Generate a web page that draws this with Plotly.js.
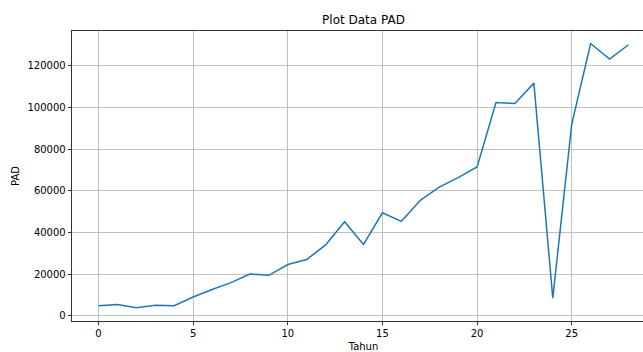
<!DOCTYPE html>
<html>
<head>
<meta charset="utf-8">
<script src="https://cdn.plot.ly/plotly-3.0.1.min.js"></script>
<style>
html,body{margin:0;padding:0;overflow:hidden;background:#fff;width:643px;height:352px;}
#chart{width:660px;height:352px;}
</style>
</head>
<body>
<div id="chart"></div>
<script>
const tahun = [0,1,2,3,4,5,6,7,8,9,10,11,12,13,14,15,16,17,18,19,20,21,22,23,24,25,26,27,28];
const pad = [4800,5400,3900,5100,4800,9000,12600,15900,20000,19400,24600,27000,34000,45100,34200,49400,45300,55400,61700,66300,71400,102300,101800,111600,8500,91800,130600,123100,130000];
const xTicks = [0,5,10,15,20,25];
const yTicks = [0,20000,40000,60000,80000,100000,120000];
const titleText = "Plot Data PAD";
const xLabel = "Tahun";
const yLabel = "PAD";

const font = "DejaVu Sans, sans-serif";
const axisCommon = {
  showline: true, mirror: true, linecolor: "#000", linewidth: 0.8,
  ticks: "outside", ticklen: 3.5, tickwidth: 0.8, tickcolor: "#000",
  showgrid: true, gridcolor: "#b0b0b0", gridwidth: 0.8,
  zeroline: false, tickfont: {family: font, size: 10, color: "#000"}
};
Plotly.newPlot("chart", [{
  x: tahun, y: pad, type: "scatter", mode: "lines",
  line: {color: "#1f77b4", width: 1.5}
}], {
  width: 660, height: 352,
  margin: {l: 72, r: 5, t: 31, b: 31},
  paper_bgcolor: "#fff", plot_bgcolor: "#fff",
  showlegend: false,
  title: {text: titleText, font: {family: font, size: 12, color: "#000"}, x: 0.5, xref: "paper", y: 1 - 20/352, yref: "container", yanchor: "middle"},
  xaxis: Object.assign({}, axisCommon, {
    range: [-1.4, 29.4], tickvals: xTicks, ticktext: xTicks.map(String),
    title: {text: xLabel, font: {family: font, size: 10, color: "#000"}, standoff: 5}
  }),
  yaxis: Object.assign({}, axisCommon, {
    range: [-2500, 136600], tickvals: yTicks, ticktext: yTicks.map(String),
    title: {text: yLabel, font: {family: font, size: 10, color: "#000"}, standoff: 5}
  })
}, {displayModeBar: false, staticPlot: true});
</script>
</body>
</html>
